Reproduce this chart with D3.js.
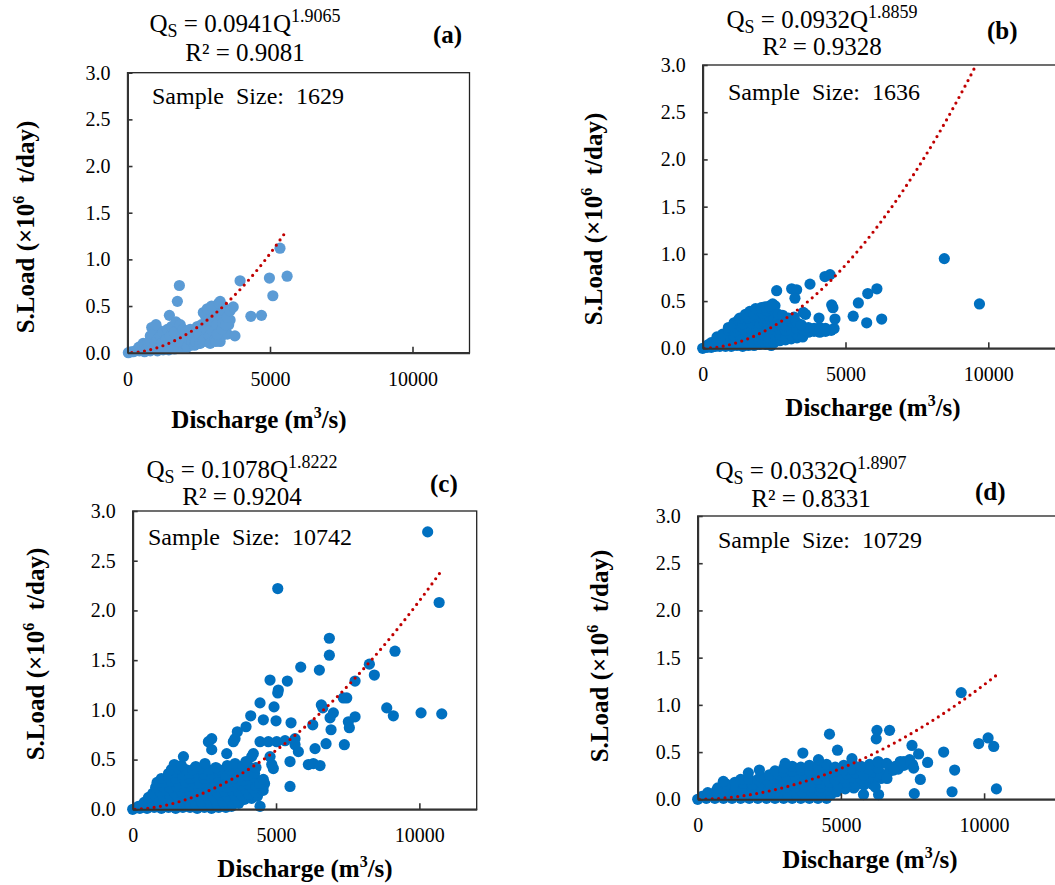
<!DOCTYPE html>
<html>
<head>
<meta charset="utf-8">
<script src="https://cdn.jsdelivr.net/npm/d3@7"></script>
<style>
  body { margin: 0; background: #fff; }
  svg { display: block; font-family: "Liberation Serif", "Times New Roman", serif; }
</style>
</head>
<body>
<svg id="chart" width="1055" height="885"></svg>
<script>
// tick labels
const xTicks = [0, 5000, 10000];
const yTicks = [0, 0.5, 1.0, 1.5, 2.0, 2.5, 3.0];

// per panel text / fit values
const panelNames = ['(a)', '(b)', '(c)', '(d)'];
const coefs = ['0.0941', '0.0932', '0.1078', '0.0332'];
const exponents = ['1.9065', '1.8859', '1.8222', '1.8907'];
const rSquared = ['0.9081', '0.9328', '0.9204', '0.8331'];
const sampleSizes = ['1629', '1636', '10742', '10729'];
const trendRanges = [[150, 5600], [50, 9700], [80, 10800], [60, 10400]];

// [discharge m3/s, load x10^6 t/day]
const pointsA = [
  [30, 0.00], [120, 0.01], [200, 0.01], [280, 0.02], [350, 0.03], [420, 0.02], [480, 0.05], [550, 0.04],
  [600, 0.01], [800, 0.02], [1050, 0.02], [1250, 0.03], [1450, 0.03], [1650, 0.04], [1850, 0.05], [2050, 0.05],
  [400, 0.06], [550, 0.10], [700, 0.04], [800, 0.18], [900, 0.12], [1000, 0.20], [1100, 0.24], [1200, 0.16],
  [1300, 0.12], [1400, 0.05], [1500, 0.10], [1600, 0.15], [1700, 0.08], [1800, 0.20], [1900, 0.05],
  [2000, 0.16], [2100, 0.20], [2200, 0.08], [2300, 0.12], [2400, 0.22], [2500, 0.10], [2600, 0.18],
  [2700, 0.30], [2750, 0.38], [2800, 0.12], [2900, 0.25], [3000, 0.32], [3000, 0.45], [3100, 0.48],
  [3150, 0.35], [3250, 0.12], [3300, 0.18], [3350, 0.50], [3400, 0.25], [3450, 0.38], [3500, 0.20],
  [3550, 0.30], [3600, 0.35],
  [600, 0.08], [650, 0.03], [700, 0.10], [750, 0.06], [800, 0.12], [850, 0.27], [900, 0.20], [950, 0.08],
  [1000, 0.30], [1050, 0.15], [1100, 0.05], [1150, 0.18], [1200, 0.10], [1250, 0.22], [1300, 0.04],
  [1350, 0.14], [1400, 0.25], [1450, 0.08], [1470, 0.40], [1500, 0.18], [1550, 0.28], [1600, 0.05],
  [1650, 0.22], [1700, 0.33], [1750, 0.55], [1780, 0.12], [1820, 0.72], [1850, 0.30], [1900, 0.18],
  [1950, 0.25], [2000, 0.10], [2050, 0.22], [2100, 0.06], [2150, 0.15], [2200, 0.25], [2250, 0.12],
  [2300, 0.18], [2350, 0.08], [2400, 0.12], [2450, 0.28], [2500, 0.20], [2550, 0.10], [2600, 0.30],
  [2650, 0.12], [2660, 0.43], [2700, 0.15], [2750, 0.25], [2800, 0.47], [2850, 0.35], [2870, 0.18],
  [2900, 0.10], [2950, 0.50], [3000, 0.22], [3050, 0.38], [3080, 0.15], [3100, 0.12], [3130, 0.30],
  [3150, 0.20], [3200, 0.53], [3250, 0.55], [3300, 0.42], [3320, 0.25], [3350, 0.32], [3400, 0.45],
  [3450, 0.30], [3500, 0.38], [3600, 0.45], [3710, 0.49], [3770, 0.18], [3950, 0.77], [4330, 0.39],
  [4700, 0.40], [4980, 0.80], [5100, 0.61], [5350, 1.12], [5600, 0.82]
];

const pointsB = [
  [0, 0.00], [150, 0.01], [300, 0.01], [450, 0.02], [600, 0.02], [800, 0.02], [1000, 0.02], [1200, 0.03],
  [1400, 0.02], [1600, 0.03], [1800, 0.03], [2000, 0.04],
  [200, 0.04], [400, 0.05], [600, 0.05], [800, 0.06], [1000, 0.05], [1200, 0.06], [1400, 0.05], [1600, 0.06],
  [1800, 0.05], [2000, 0.06], [2200, 0.04], [2400, 0.03],
  [300, 0.06], [500, 0.09], [700, 0.08], [900, 0.10], [1100, 0.09], [1300, 0.08], [1500, 0.10], [1700, 0.09],
  [1900, 0.10], [2100, 0.08], [2300, 0.07], [2500, 0.06], [2700, 0.08],
  [500, 0.12], [700, 0.13], [900, 0.14], [1100, 0.13], [1300, 0.14], [1500, 0.13], [1700, 0.14], [1900, 0.13],
  [2100, 0.14], [2300, 0.12], [2500, 0.11], [2700, 0.11], [2900, 0.09], [3100, 0.10], [3300, 0.11], [3500, 0.12],
  [700, 0.15], [900, 0.19], [1100, 0.18], [1300, 0.20], [1500, 0.18], [1700, 0.19], [1900, 0.17], [2100, 0.19],
  [2300, 0.16], [2500, 0.15], [2700, 0.14], [2900, 0.13], [3100, 0.14], [3300, 0.15], [3500, 0.14],
  [3700, 0.17], [3900, 0.18], [4100, 0.17], [4300, 0.18], [4500, 0.19], [4600, 0.21],
  [900, 0.22], [1100, 0.23], [1300, 0.24], [1500, 0.23], [1700, 0.24], [1900, 0.22], [2100, 0.23],
  [2300, 0.21], [2500, 0.20], [2700, 0.20], [2900, 0.19], [3100, 0.20], [3300, 0.21], [3500, 0.20],
  [3700, 0.22], [3900, 0.21], [4100, 0.22], [4300, 0.21],
  [1100, 0.27], [1250, 0.30], [1400, 0.26], [1550, 0.29], [1700, 0.27], [1850, 0.30], [2000, 0.27],
  [2150, 0.28], [2300, 0.25], [2500, 0.24], [2700, 0.26], [2900, 0.24], [3100, 0.28], [3300, 0.27], [3450, 0.25],
  [1300, 0.32], [1450, 0.33], [1600, 0.32], [1750, 0.33], [1900, 0.34], [2050, 0.33], [2200, 0.32],
  [2350, 0.33], [2500, 0.31], [2650, 0.30], [2800, 0.29],
  [1500, 0.36], [1650, 0.39], [1800, 0.36], [1950, 0.40], [2100, 0.37], [2250, 0.40], [2400, 0.42],
  [2530, 0.45], [2650, 0.36], [2800, 0.35], [3000, 0.32], [3200, 0.33],
  [1850, 0.42], [2050, 0.43], [2200, 0.44], [2350, 0.45], [2450, 0.47],
  [2590, 0.61], [3115, 0.63], [3290, 0.62], [3230, 0.53], [3523, 0.38], [3600, 0.36], [3757, 0.68],
  [4072, 0.32], [4280, 0.76], [4460, 0.78], [4517, 0.46], [4560, 0.43], [4632, 0.31], [5270, 0.34],
  [5450, 0.48], [5742, 0.27], [5780, 0.58], [6100, 0.63], [6267, 0.31], [8460, 0.95], [9690, 0.47]
];

const pointsC = [
  [0, 0.00], [250, 0.01], [500, 0.01], [750, 0.02], [1000, 0.01], [1250, 0.02], [1500, 0.01], [1750, 0.02],
  [2000, 0.02], [2250, 0.01], [2500, 0.02], [2750, 0.01], [3000, 0.02], [3250, 0.02], [3450, 0.03],
  [200, 0.03], [450, 0.04], [700, 0.05], [950, 0.05], [1200, 0.06], [1450, 0.05], [1700, 0.05], [1950, 0.06],
  [2200, 0.05], [2450, 0.05], [2700, 0.06], [2950, 0.05], [3200, 0.05], [3450, 0.06], [3700, 0.06],
  [400, 0.07], [650, 0.09], [900, 0.08], [1150, 0.10], [1400, 0.09], [1650, 0.08], [1900, 0.10], [2150, 0.09],
  [2400, 0.08], [2650, 0.10], [2900, 0.09], [3150, 0.08], [3400, 0.10], [3650, 0.09], [3900, 0.10],
  [4150, 0.11], [4350, 0.13],
  [550, 0.12], [800, 0.13], [1050, 0.14], [1300, 0.13], [1550, 0.14], [1800, 0.13], [2050, 0.14], [2300, 0.13],
  [2550, 0.14], [2800, 0.13], [3050, 0.14], [3300, 0.13], [3550, 0.14], [3800, 0.14], [4050, 0.15],
  [4300, 0.17], [4550, 0.19],
  [700, 0.16], [950, 0.18], [1200, 0.19], [1450, 0.17], [1700, 0.18], [1950, 0.19], [2200, 0.17], [2450, 0.18],
  [2700, 0.19], [2950, 0.17], [3200, 0.18], [3450, 0.19], [3700, 0.18], [3950, 0.20], [4200, 0.21], [4450, 0.22],
  [800, 0.22], [1050, 0.23], [1300, 0.22], [1550, 0.23], [1800, 0.22], [2050, 0.23], [2300, 0.22], [2550, 0.23],
  [2800, 0.22], [3050, 0.23], [3300, 0.22], [3550, 0.23], [3800, 0.24], [4050, 0.25], [4300, 0.24], [4550, 0.23],
  [850, 0.27], [1100, 0.27], [1350, 0.28], [1600, 0.26], [1850, 0.27], [2100, 0.28], [2350, 0.26], [2600, 0.27],
  [2850, 0.28], [3100, 0.26], [3350, 0.27], [3600, 0.28], [3850, 0.29], [4100, 0.30], [4350, 0.28], [4600, 0.26],
  [1000, 0.31], [1250, 0.32], [1500, 0.31], [1750, 0.32], [2000, 0.31], [2250, 0.32], [2500, 0.31],
  [2750, 0.32], [3000, 0.31], [3250, 0.32], [3500, 0.31], [3750, 0.33], [4000, 0.34], [4250, 0.32],
  [1250, 0.36], [1500, 0.37], [1750, 0.35], [2000, 0.36], [2250, 0.37], [2500, 0.35], [2750, 0.36], [3000, 0.37],
  [3250, 0.35], [3500, 0.36], [3750, 0.37], [4000, 0.38], [4250, 0.36],
  [1350, 0.40], [1600, 0.41], [1850, 0.40], [2100, 0.40], [2350, 0.41], [2650, 0.40], [3000, 0.40],
  [3400, 0.40], [3700, 0.41], [4050, 0.43], [4300, 0.42],
  [1450, 0.45], [1700, 0.44], [1770, 0.53], [2200, 0.43], [2520, 0.46], [2900, 0.42], [3300, 0.44],
  [3570, 0.46], [3850, 0.44], [3950, 0.48], [4150, 0.53],
  [10290, 2.79], [5060, 2.22], [10690, 2.08], [6860, 1.72], [6860, 1.55], [9150, 1.59], [8256, 1.46],
  [8430, 1.35], [7757, 1.29], [5862, 1.43], [6512, 1.40], [4791, 1.30], [5395, 1.29], [5080, 1.20],
  [5060, 1.17], [4442, 1.07], [4930, 1.03], [6580, 1.05], [6630, 1.02], [7348, 1.12], [7467, 1.12],
  [8862, 1.02], [9093, 0.94], [10059, 0.97], [10781, 0.96], [7000, 0.97], [6885, 0.92], [7757, 0.93],
  [7523, 0.88], [7558, 0.82], [6919, 0.80], [6745, 0.66], [7383, 0.65], [6281, 0.85], [5523, 0.87],
  [5000, 0.89], [4557, 0.90], [4117, 0.94], [3953, 0.83], [3650, 0.78], [3570, 0.71], [2756, 0.71],
  [2640, 0.68], [2756, 0.60], [3280, 0.56], [3510, 0.68], [4442, 0.68], [4733, 0.68], [5024, 0.68],
  [5314, 0.69], [5663, 0.71], [5663, 0.65], [5779, 0.58], [6361, 0.61], [6302, 0.46], [6535, 0.44],
  [6128, 0.45], [5488, 0.48], [5488, 0.23], [4442, 0.03], [4906, 0.41], [4850, 0.45], [4791, 0.53],
  [4208, 0.56], [4442, 0.26], [4557, 0.30]
];

const pointsD = [
  [0, 0.00], [300, 0.01], [600, 0.01], [900, 0.01], [1200, 0.01], [1500, 0.01], [1800, 0.01], [2100, 0.01],
  [2400, 0.01], [2700, 0.01], [3000, 0.01], [3300, 0.01], [3600, 0.01], [3900, 0.01], [4200, 0.01], [4500, 0.01],
  [150, 0.03], [450, 0.04], [750, 0.05], [1050, 0.05], [1350, 0.05], [1650, 0.05], [1950, 0.05], [2250, 0.05],
  [2550, 0.05], [2850, 0.05], [3150, 0.05], [3450, 0.05], [3750, 0.05], [4050, 0.05], [4350, 0.05], [4650, 0.05],
  [350, 0.07], [650, 0.09], [950, 0.08], [1250, 0.10], [1550, 0.09], [1850, 0.08], [2150, 0.10], [2450, 0.09],
  [2750, 0.08], [3050, 0.10], [3350, 0.09], [3650, 0.08], [3950, 0.10], [4250, 0.09], [4550, 0.10],
  [4850, 0.08], [5150, 0.11], [5450, 0.12],
  [700, 0.12], [1000, 0.13], [1300, 0.13], [1600, 0.13], [1900, 0.13], [2200, 0.13], [2500, 0.13], [2800, 0.13],
  [3100, 0.13], [3400, 0.13], [3700, 0.13], [4000, 0.13], [4300, 0.13], [4600, 0.14], [4900, 0.13],
  [5200, 0.14], [5500, 0.14], [5800, 0.15], [6100, 0.16],
  [1000, 0.16], [1300, 0.18], [1600, 0.17], [1900, 0.16], [2200, 0.18], [2500, 0.17], [2800, 0.16],
  [3100, 0.18], [3400, 0.17], [3700, 0.16], [4000, 0.18], [4300, 0.17], [4600, 0.18], [4900, 0.16],
  [5200, 0.18], [5500, 0.17], [5800, 0.19], [6100, 0.20], [6400, 0.22],
  [1500, 0.21], [1800, 0.21], [2100, 0.21], [2400, 0.21], [2700, 0.22], [3000, 0.21], [3300, 0.22],
  [3600, 0.21], [3900, 0.22], [4200, 0.21], [4500, 0.22], [4800, 0.21], [5100, 0.22], [5400, 0.23],
  [5700, 0.22], [6000, 0.24], [6300, 0.25], [6600, 0.26],
  [2200, 0.24], [2500, 0.26], [2800, 0.27], [3100, 0.25], [3400, 0.26], [3700, 0.27], [4000, 0.25],
  [4300, 0.26], [4600, 0.28], [4900, 0.25], [5200, 0.27], [5500, 0.28], [5800, 0.26], [6100, 0.29],
  [6400, 0.27], [6700, 0.30], [7000, 0.32],
  [2700, 0.30], [3000, 0.29], [3300, 0.30], [3600, 0.31], [3900, 0.30], [4200, 0.31], [4500, 0.32],
  [4800, 0.30], [5100, 0.31], [5400, 0.32], [5700, 0.31], [6000, 0.32], [6300, 0.33], [6900, 0.35],
  [7200, 0.36], [7500, 0.37],
  [3000, 0.33], [3300, 0.35], [3600, 0.34], [3900, 0.36], [4200, 0.35], [4500, 0.37], [4800, 0.34],
  [5100, 0.36], [5400, 0.38], [5700, 0.35], [6000, 0.37], [6300, 0.40], [6600, 0.38], [7200, 0.40], [7400, 0.42],
  [9200, 1.13], [4601, 0.69], [6259, 0.73], [6234, 0.64], [6699, 0.73], [9811, 0.59], [10140, 0.65],
  [10336, 0.56], [10430, 0.11], [8588, 0.50], [8972, 0.31], [8881, 0.08], [7563, 0.06], [7773, 0.21],
  [8028, 0.39], [7482, 0.57], [7713, 0.48], [7539, 0.33], [7073, 0.40], [6840, 0.31], [6608, 0.22],
  [5790, 0.05], [6315, 0.05], [6200, 0.13], [3671, 0.49], [4881, 0.52], [4217, 0.42], [5385, 0.43],
  [2154, 0.31], [1769, 0.28], [895, 0.19], [3052, 0.38]
];

const allPoints = [pointsA, pointsB, pointsC, pointsD];

// placement of each panel on the page
const layout = [
  { left: 127.5, top: 72.7, w: 342, h: 280, xMax: 12000, color: '#5B9BD5',
    eqX: 245, eqY: [32, 61], lblX: 433, lblY: 43, ssX: 152, ssY: 104, ytX: 34, ytY: 227, xtX: 259, xtY: 428 },
  { left: 702.7, top: 65, w: 357, h: 283.3, xMax: 12500, color: '#0070C0',
    eqX: 822, eqY: [27.5, 55], lblX: 987, lblY: 38.5, ssX: 728, ssY: 99.5, ytX: 601.5, ytY: 219, xtX: 873, xtY: 416 },
  { left: 132.7, top: 511, w: 344, h: 298.3, xMax: 12000, color: '#0070C0',
    eqX: 242, eqY: [478, 505], lblX: 430, lblY: 492, ssX: 148, ssY: 545, ytX: 43.5, ytY: 654, xtX: 305, xtY: 877 },
  { left: 697.7, top: 516, w: 358, h: 283.3, xMax: 12500, color: '#0070C0',
    eqX: 811, eqY: [479, 507], lblX: 975, lblY: 500, ssX: 718, ssY: 548, ytX: 607.5, ytY: 656, xtX: 870, xtY: 868 }
];

const svg = d3.select('#chart');

layout.forEach((L, i) => {
  const x = d3.scaleLinear().domain([0, L.xMax]).range([L.left, L.left + L.w]);
  const y = d3.scaleLinear().domain([0, 3]).range([L.top + L.h, L.top]);

  // plot border
  svg.append('rect')
    .attr('x', L.left).attr('y', L.top)
    .attr('width', L.w).attr('height', L.h)
    .attr('fill', 'none').attr('stroke', '#222').attr('stroke-width', 1.3);

  const clipId = 'clip' + i;
  svg.append('clipPath').attr('id', clipId)
    .append('rect').attr('x', L.left).attr('y', L.top).attr('width', L.w).attr('height', L.h);

  // points
  svg.append('g').selectAll('circle')
    .data(allPoints[i])
    .join('circle')
    .attr('cx', (d) => x(d[0]))
    .attr('cy', (d) => y(d[1]))
    .attr('r', 5.6)
    .attr('fill', L.color);

  // power trendline from the printed equation
  const a = +coefs[i], b = +exponents[i];
  const [q0, q1] = trendRanges[i];
  const qs = d3.range(q0, q1, 40).concat([q1]);
  const line = d3.line().x((q) => x(q)).y((q) => y(a * Math.pow(q, b) / 1e6));
  svg.append('path')
    .attr('d', line(qs))
    .attr('clip-path', `url(#${clipId})`)
    .attr('fill', 'none')
    .attr('stroke', '#C00000')
    .attr('stroke-width', 3.2)
    .attr('stroke-linecap', 'round')
    .attr('stroke-dasharray', '0,6.4');

  // axes, ticks pointing inwards
  const yAxis = d3.axisLeft(y).tickValues(yTicks).tickFormat(d3.format('.1f'))
    .tickSizeInner(-5).tickSizeOuter(0).tickPadding(17);
  const yg = svg.append('g').attr('transform', `translate(${L.left},0)`).call(yAxis);
  const xAxis = d3.axisBottom(x).tickValues(xTicks).tickFormat(d3.format('d'))
    .tickSizeInner(-6).tickSizeOuter(0).tickPadding(19);
  const xg = svg.append('g').attr('transform', `translate(0,${L.top + L.h})`).call(xAxis);
  [yg, xg].forEach((g) => {
    g.attr('font-family', '"Liberation Serif", serif');
    g.select('.domain').attr('stroke', '#333').attr('stroke-width', 2);
    g.selectAll('line').attr('stroke', '#333').attr('stroke-width', 1.6);
    g.selectAll('text').attr('font-size', 20).attr('fill', '#000');
  });

  // equation
  const eq = svg.append('text').attr('x', L.eqX).attr('y', L.eqY[0])
    .attr('text-anchor', 'middle').attr('font-size', 25);
  eq.append('tspan').text('Q');
  eq.append('tspan').attr('font-size', 18).attr('dy', 5).text('S');
  eq.append('tspan').attr('dy', -5).text(' = ' + coefs[i] + 'Q');
  eq.append('tspan').attr('font-size', 18).attr('dy', -10).text(exponents[i]);

  svg.append('text').attr('x', L.eqX).attr('y', L.eqY[1])
    .attr('text-anchor', 'middle').attr('font-size', 25)
    .text('R² = ' + rSquared[i]);

  svg.append('text').attr('x', L.lblX).attr('y', L.lblY)
    .attr('font-size', 25).attr('font-weight', 'bold').text(panelNames[i]);

  svg.append('text').attr('x', L.ssX).attr('y', L.ssY)
    .attr('font-size', 24).style('white-space', 'pre')
    .text('Sample  Size:  ' + sampleSizes[i]);

  // axis titles
  const yt = svg.append('text')
    .attr('transform', `translate(${L.ytX},${L.ytY}) rotate(-90)`)
    .attr('text-anchor', 'middle').attr('font-size', 25).attr('font-weight', 'bold')
    .style('white-space', 'pre');
  yt.append('tspan').text('S.Load (×10');
  yt.append('tspan').attr('font-size', 16).attr('dy', -10).text('6');
  yt.append('tspan').attr('dy', 10).text('  t/day)');

  const xt = svg.append('text').attr('x', L.xtX).attr('y', L.xtY)
    .attr('text-anchor', 'middle').attr('font-size', 25).attr('font-weight', 'bold');
  xt.append('tspan').text('Discharge (m');
  xt.append('tspan').attr('font-size', 16).attr('dy', -10).text('3');
  xt.append('tspan').attr('dy', 10).text('/s)');
});
</script>
</body>
</html>
